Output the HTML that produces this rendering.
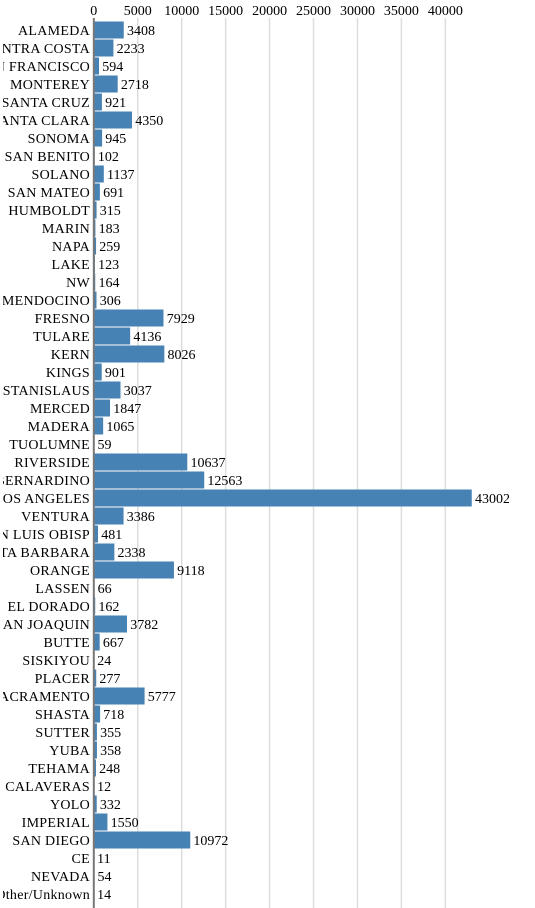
<!DOCTYPE html>
<html>
<head>
<meta charset="utf-8">
<style>
html,body{margin:0;padding:0;background:#fff;width:535px;height:908px;overflow:hidden}
svg{display:block}
text{font-family:"Liberation Serif",serif;font-size:14px;fill:#000}
.county{letter-spacing:0.28px}
</style>
</head>
<body>
<svg id="chart" width="535" height="908" viewBox="0 0 535 908" xmlns="http://www.w3.org/2000/svg">
<rect x="0" y="0" width="535" height="908" fill="#fff"/>
<defs><clipPath id="plot-clip"><rect x="3" y="0" width="506" height="908"/></clipPath></defs>
<g id="root" clip-path="url(#plot-clip)"></g>
</svg>
<script>
var counties = ["ALAMEDA","CONTRA COSTA","SAN FRANCISCO","MONTEREY","SANTA CRUZ","SANTA CLARA","SONOMA","SAN BENITO","SOLANO","SAN MATEO","HUMBOLDT","MARIN","NAPA","LAKE","NW","MENDOCINO","FRESNO","TULARE","KERN","KINGS","STANISLAUS","MERCED","MADERA","TUOLUMNE","RIVERSIDE","SAN BERNARDINO","LOS ANGELES","VENTURA","SAN LUIS OBISP","SANTA BARBARA","ORANGE","LASSEN","EL DORADO","SAN JOAQUIN","BUTTE","SISKIYOU","PLACER","SACRAMENTO","SHASTA","SUTTER","YUBA","TEHAMA","CALAVERAS","YOLO","IMPERIAL","SAN DIEGO","CE","NEVADA","Other/Unknown"];
var values = [3408,2233,594,2718,921,4350,945,102,1137,691,315,183,259,123,164,306,7929,4136,8026,901,3037,1847,1065,59,10637,12563,43002,3386,481,2338,9118,66,162,3782,667,24,277,5777,718,355,358,248,12,332,1550,10972,11,54,14];
var ticks = [0,5000,10000,15000,20000,25000,30000,35000,40000];

var NS = "http://www.w3.org/2000/svg";
var root = document.getElementById("root");
function xScale(v){ return 93.8 + v * 0.008789; }
function yScale(i){ return 21 + i * 18; }
function make(tag, attrs){
  var el = document.createElementNS(NS, tag);
  for (var k in attrs) el.setAttribute(k, attrs[k]);
  root.appendChild(el);
  return el;
}
ticks.forEach(function(t){
  if (t > 0) {
    var g = make("line", {x1:xScale(t), x2:xScale(t), y1:18, y2:908, stroke:"#ddd", "stroke-width":1.5});
    
    
  }
  var tl = make("text", {x:xScale(t), y:15, "text-anchor":"middle"});
  
  
  tl.textContent = t;
});
counties.forEach(function(c, i){
  var v = values[i];
  var top = yScale(i);
  var b = make("rect", {x:xScale(0), y:top + 0.5, width:Math.max(0, xScale(v) - xScale(0)), height:17, fill:"#4682b4"});
  
  
  var l = make("text", {x:90, y:top + 14, "text-anchor":"end", "class":"county"});
  
  
  l.textContent = c;
  var n = make("text", {x:xScale(v) + 3.2, y:top + 14});
  
  
  n.textContent = v;
});
var axis = make("line", {x1:xScale(0), x2:xScale(0), y1:18, y2:908, stroke:"#777", "stroke-width":2});


</script>
</body>
</html>
